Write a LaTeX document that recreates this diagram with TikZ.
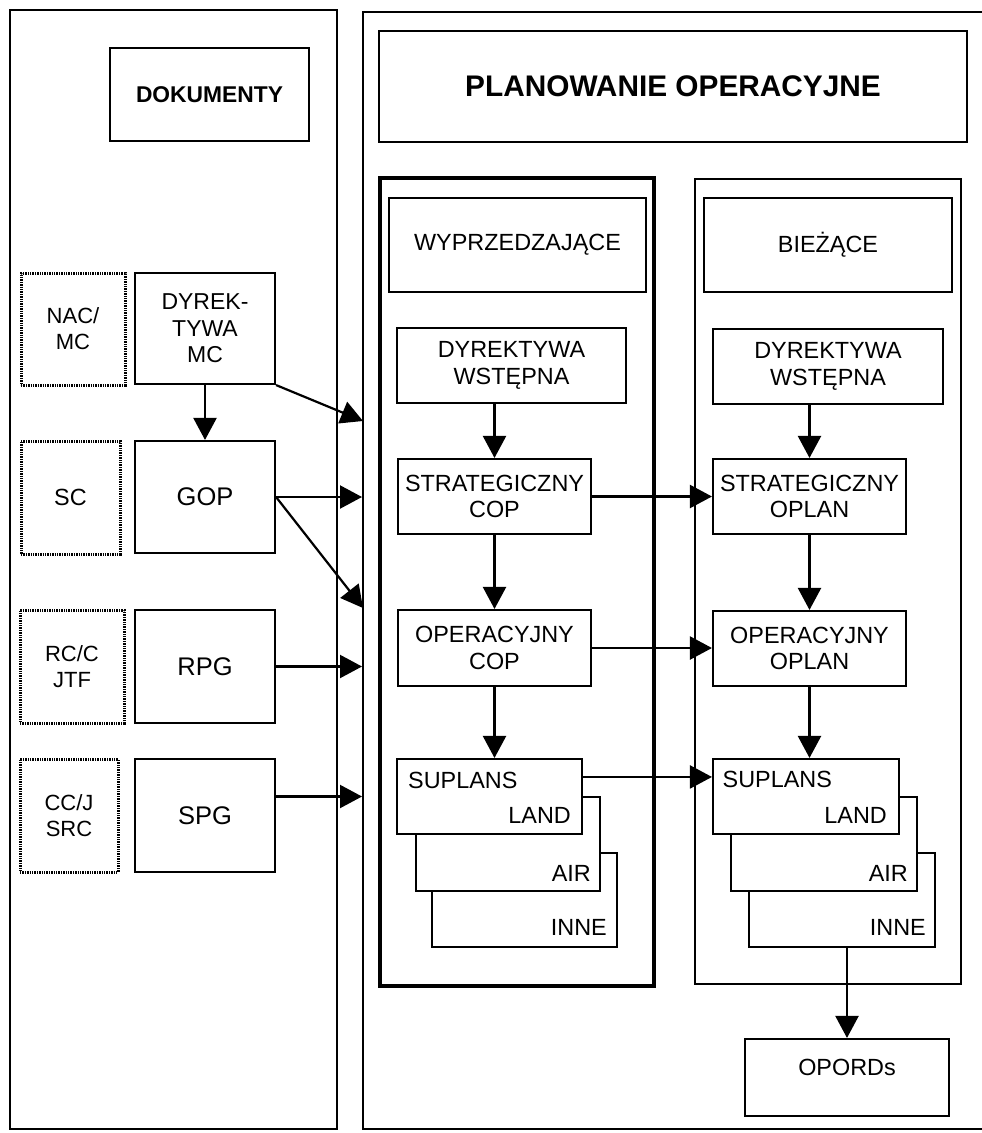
\documentclass[tikz,border=0pt]{standalone}
\usepackage{fontspec}
\setmainfont{Liberation Sans}
\usetikzlibrary{arrows.meta}
\newcommand\dtxt{\fontsize{23.4}{26.5}\selectfont}
\newcommand\dbig{\fontsize{25.5}{27}\selectfont}
\newcommand\dsmall{\fontsize{22}{26}\selectfont}
\begin{document}
\begin{tikzpicture}[x=1pt,y=-1pt,line join=miter,
  panel/.style={draw, line width=2pt, inner sep=0pt},
  box/.style={draw, fill=white, line width=2.1pt, inner sep=0pt, align=center, font=\dtxt},
  dotbox/.style={draw, line width=3pt, dash pattern=on 1.4pt off 1pt, inner sep=0pt, align=center, font=\dsmall},
  arr/.style={line width=2.2pt, -{Triangle[length=22pt,width=23pt]}},
  lbl/.style={font=\dtxt, inner sep=0pt}]
\useasboundingbox (0,0) rectangle (982,1133);
\fill[white] (0,0) rectangle (982,1133);

% outer panels
\node[panel, minimum width=327, minimum height=1119] (lp) at (173.5,569.5) {};
\node[panel, minimum width=637, minimum height=1117] (rp) at (681.5,570.5) {};

% headings
\node[box, minimum width=199, minimum height=93, font=\fontsize{22.8}{26}\selectfont\bfseries] (dok) at (209.5,94.5) {DOKUMENTY};
\node[box, minimum width=588, minimum height=111, font=\fontsize{29.8}{32}\selectfont\bfseries] (title) at (673,86.5) {PLANOWANIE OPERACYJNE};

% column containers
\node[draw, line width=4.2pt, inner sep=0pt, minimum width=274, minimum height=808] (wyp) at (517,582) {};
\node[panel, minimum width=266, minimum height=805] (bie) at (828,581.5) {};
\node[box, minimum width=257, minimum height=94] (wyph) at (517.5,245) {WYPRZEDZAJĄCE};
\node[box, minimum width=248, minimum height=94] (bieh) at (828,245) {BIEŻĄCE};

% left column: documents
\node[dotbox, minimum width=104, minimum height=112] (nac) at (73,329) {NAC/\\MC};
\node[box, minimum width=140, minimum height=111, font=\fontsize{23}{26.5}\selectfont] (dyrmc) at (205,328.5) {DYREK-\\TYWA\\MC};
\node[dotbox, minimum width=99, minimum height=113, font=\dtxt] (sc) at (70.5,497.5) {SC};
\node[box, minimum width=140, minimum height=112, font=\dbig] (gop) at (205,497) {GOP};
\node[dotbox, minimum width=104, minimum height=113] (rcc) at (72,666.5) {RC/C\\JTF};
\node[box, minimum width=140, minimum height=113, font=\dbig] (rpg) at (205,666.5) {RPG};
\node[dotbox, minimum width=98, minimum height=113] (ccj) at (69,815.5) {CC/J\\SRC};
\node[box, minimum width=140, minimum height=113, font=\dbig] (spg) at (205,815.5) {SPG};

% anticipatory planning column
\node[box, minimum width=229, minimum height=75] (dwl) at (511.5,365.5) {DYREKTYWA\\WSTĘPNA};
\node[box, minimum width=193, minimum height=75] (scop) at (494.5,496.5) {STRATEGICZNY\\COP};
\node[box, minimum width=193, minimum height=76] (ocop) at (494.5,648) {OPERACYJNY\\COP};
\node[box, minimum width=185, minimum height=94] (inneL) at (524.5,900) {};
\node[box, minimum width=184, minimum height=94] (airL) at (508,844) {};
\node[box, minimum width=185, minimum height=75] (landL) at (489.5,796.5) {};
\node[lbl, anchor=base west] (supLt) at ([xshift=12pt,yshift=-31pt]landL.north west) {SUPLANS};
\node[lbl, anchor=base east] (landLt) at ([xshift=-12pt,yshift=12pt]landL.south east) {LAND};
\node[lbl, anchor=base east] (airLt) at ([xshift=-10pt,yshift=11pt]airL.south east) {AIR};
\node[lbl, anchor=base east] (inneLt) at ([xshift=-11pt,yshift=13pt]inneL.south east) {INNE};

% current planning column
\node[box, minimum width=230, minimum height=75] (dwr) at (828,366.5) {DYREKTYWA\\WSTĘPNA};
\node[box, minimum width=193, minimum height=75] (soplan) at (809.5,496.5) {STRATEGICZNY\\OPLAN};
\node[box, minimum width=193, minimum height=75] (ooplan) at (809.5,648.5) {OPERACYJNY\\OPLAN};
\node[box, minimum width=186, minimum height=94] (inneR) at (842,900) {};
\node[box, minimum width=186, minimum height=94] (airR) at (824,844) {};
\node[box, minimum width=186, minimum height=75] (landR) at (806,796.5) {};
\node[lbl, anchor=base west] (supRt) at ([xshift=10.5pt,yshift=-30pt]landR.north west) {SUPLANS};
\node[lbl, anchor=base east] (landRt) at ([xshift=-13pt,yshift=12pt]landR.south east) {LAND};
\node[lbl, anchor=base east] (airRt) at ([xshift=-10pt,yshift=11pt]airR.south east) {AIR};
\node[lbl, anchor=base east] (inneRt) at ([xshift=-10pt,yshift=13pt]inneR.south east) {INNE};

\node[box, minimum width=204, minimum height=77, text height=17pt, text depth=21pt] (opords) at (847,1077.5) {OPORDs};

% arrow ends on the border of the planning panel
\coordinate (inA) at (363,421);
\coordinate (inB) at (363,608);
\coordinate (spgOut) at ([yshift=19pt]spg.east);
\coordinate (supOut) at ([yshift=-19pt]landL.north east);

% connectors: documents
\draw[arr] (dyrmc.south) -- (gop.north);
\draw[arr] (dyrmc.south east) -- (inA);
\draw[arr] (gop.east) -- (rp.west |- gop.east);
\draw[arr] (gop.east) -- (inB);
\draw[arr] (rpg.east) -- (rp.west |- rpg.east);
\draw[arr] (spgOut) -- (rp.west |- spgOut);

% connectors: planning columns
\draw[arr] (scop.north |- dwl.south) -- (scop.north);
\draw[arr] (scop.south) -- (ocop.north);
\draw[arr] (ocop.south) -- (ocop.south |- landL.north);
\draw[arr] (soplan.north |- dwr.south) -- (soplan.north);
\draw[arr] (soplan.south) -- (ooplan.north);
\draw[arr] (ooplan.south) -- (ooplan.south |- landR.north);
\draw[arr] (scop.east) -- (soplan.west);
\draw[arr] (ocop.east) -- (ooplan.west |- ocop.east);
\draw[arr] (supOut) -- (landR.west |- supOut);
\draw[arr] (opords.north |- inneR.south) -- (opords.north);
\end{tikzpicture}
\end{document}
